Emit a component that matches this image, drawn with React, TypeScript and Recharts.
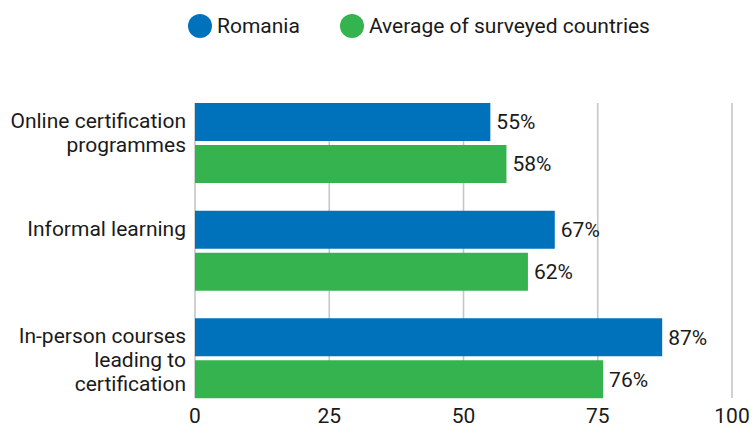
import { BarChart, Bar, XAxis, YAxis, CartesianGrid, Legend, LabelList } from 'recharts';

const categories = [
  'Online certification programmes',
  'Informal learning',
  'In-person courses leading to certification',
];
const categoryLines = [
  ['Online certification', 'programmes'],
  ['Informal learning'],
  ['In-person courses', 'leading to', 'certification'],
];
const romania = [55, 67, 87];
const surveyAverage = [58, 62, 76];
const xTicks = [0, 25, 50, 75, 100];

const series = [
  { key: 'romania', name: 'Romania', color: '#0072BC' },
  { key: 'average', name: 'Average of surveyed countries', color: '#34B34F' },
];

const data = categories.map((name, i) => ({
  name,
  romania: romania[i],
  average: surveyAverage[i],
}));

const TEXT = '#1a1a1a';

function CategoryTick({ x, y, payload }: any) {
  const idx = categories.indexOf(payload.value);
  const lines = categoryLines[idx] || [payload.value];
  return (
    <text x={x - 1} y={y - 15} textAnchor="end" fill={TEXT} fontSize={21}>
      {lines.map((line, i) => (
        <tspan key={i} x={x - 1} dy={i === 0 ? 0 : 24}>
          {line}
        </tspan>
      ))}
    </text>
  );
}

function LegendContent() {
  return (
    <div style={{ display: 'flex', alignItems: 'center', fontSize: 21, color: TEXT, whiteSpace: 'nowrap' }}>
      {series.map((s, i) => (
        <div key={s.key} style={{ display: 'flex', alignItems: 'center', marginRight: i === 0 ? 40 : 0 }}>
          <span
            style={{ width: 24, height: 24, borderRadius: 12, background: s.color, display: 'inline-block', marginRight: 5 }}
          />
          <span>{s.name}</span>
        </div>
      ))}
    </div>
  );
}

export default function App() {
  return (
    <div style={{ position: 'absolute', left: 0, top: 0, fontFamily: 'Roboto, sans-serif', background: '#fff' }}>
      <BarChart
        width={752}
        height={427}
        data={data}
        layout="vertical"
        margin={{ top: 103, right: 20, left: 0, bottom: 0 }}
        barSize={38}
        barGap={4}
      >
        <CartesianGrid horizontal={false} stroke="#c6c6c6" strokeWidth={1.6} />
        <XAxis
          type="number"
          domain={[0, 100]}
          ticks={xTicks}
          axisLine={false}
          tickLine={false}
          tickSize={0}
          tickMargin={10}
          height={29}
          tick={{ fill: TEXT, fontSize: 21 }}
          interval={0}
        />
        <YAxis
          type="category"
          dataKey="name"
          width={195}
          axisLine={false}
          tickLine={false}
          padding={{ top: -14, bottom: -14 }}
          tick={<CategoryTick />}
          interval={0}
        />
        <Legend
          verticalAlign="middle"
          align="center"
          content={<LegendContent />}
          wrapperStyle={{ top: 14, left: 188, width: 'auto', height: 'auto' }}
        />
        {series.map((s) => (
          <Bar key={s.key} dataKey={s.key} name={s.name} fill={s.color} isAnimationActive={false}>
            <LabelList
              dataKey={s.key}
              position="right"
              offset={6}
              fill={TEXT}
              fontSize={21}
              formatter={(v: any) => `${v}%`}
            />
          </Bar>
        ))}
      </BarChart>
    </div>
  );
}
